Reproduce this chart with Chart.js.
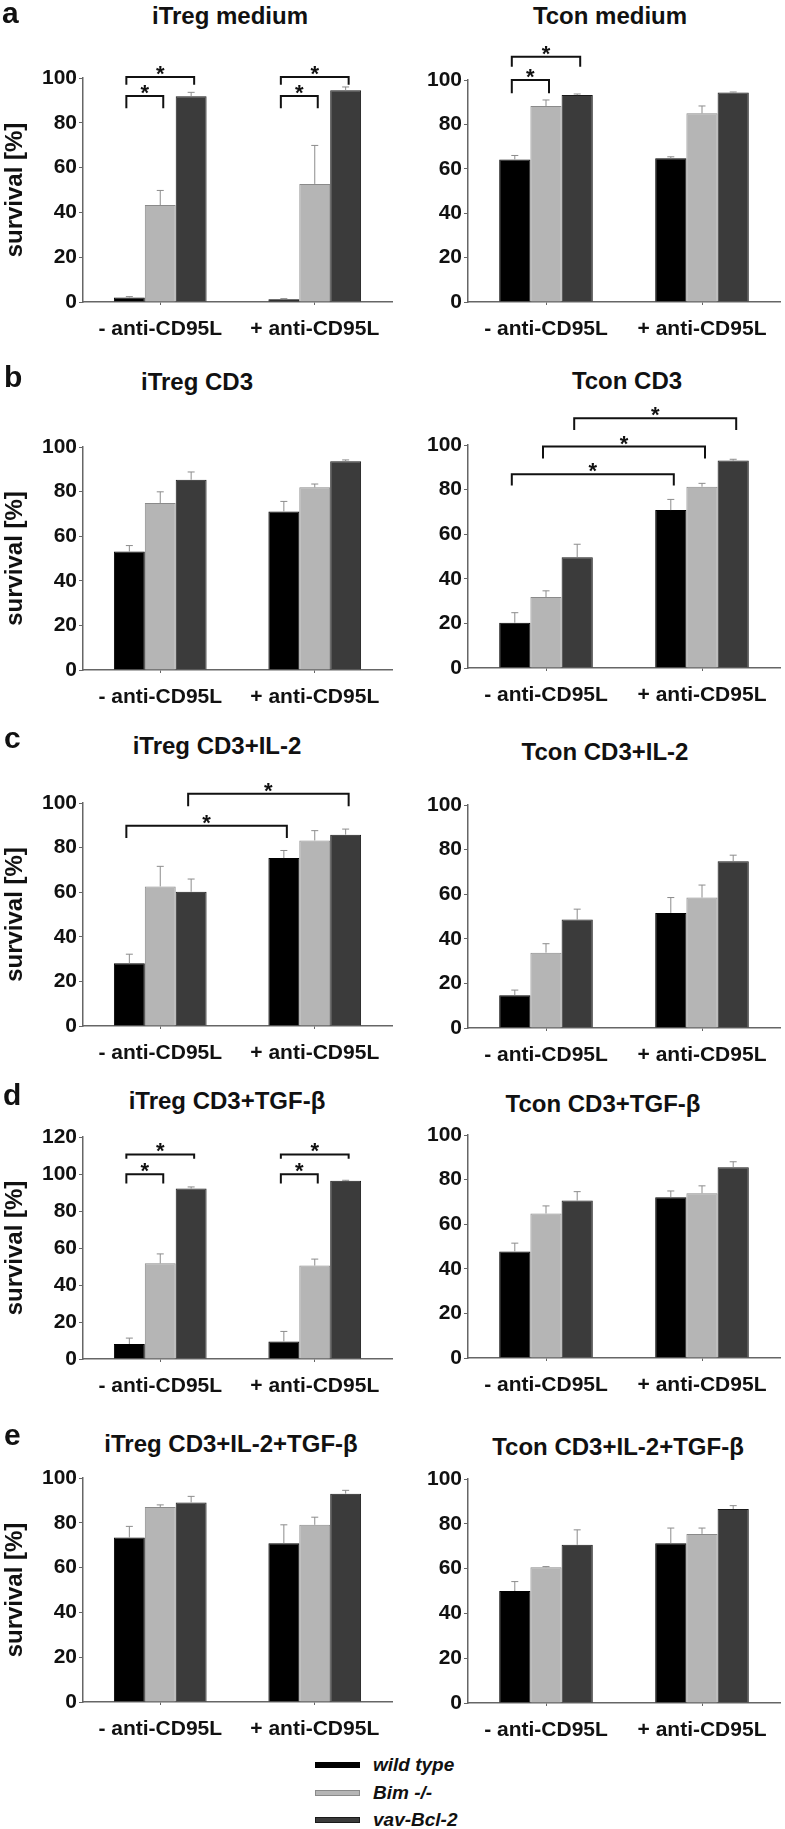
<!DOCTYPE html>
<html><head><meta charset="utf-8">
<script src="https://cdn.jsdelivr.net/npm/chart.js@4.4.0/dist/chart.umd.min.js"></script>
<style>
body{margin:0;background:#fff;}
#wrap{position:relative;width:785px;height:1829px;background:#fff;font-family:"Liberation Sans",Arial,sans-serif;color:#111;overflow:hidden;}
canvas{position:absolute;}
.ttl{position:absolute;font-weight:bold;font-size:24px;line-height:24px;white-space:nowrap;transform:translateX(-50%);}
.let{position:absolute;font-weight:bold;font-size:30px;line-height:30px;}
.sw{position:absolute;left:315px;width:45px;height:6px;box-sizing:border-box;}
.lt{position:absolute;left:373px;font-weight:bold;font-style:italic;font-size:19px;line-height:19px;white-space:nowrap;}
</style></head><body><div id="wrap"></div>
<script>
// ---------- data ----------
const categories = ['- anti-CD95L', '+ anti-CD95L'];
const seriesNames = ['wild type', 'Bim -/-', 'vav-Bcl-2'];
const yTicks100 = [0, 20, 40, 60, 80, 100];
const yTicks120 = [0, 20, 40, 60, 80, 100, 120];
const panelTitles = ['iTreg medium', 'Tcon medium', 'iTreg CD3', 'Tcon CD3', 'iTreg CD3+IL-2', 'Tcon CD3+IL-2',
  'iTreg CD3+TGF-β', 'Tcon CD3+TGF-β', 'iTreg CD3+IL-2+TGF-β', 'Tcon CD3+IL-2+TGF-β'];
const panelLetters = ['a', 'b', 'c', 'd', 'e'];

// means: [wild type, Bim -/-, vav-Bcl-2] x [- anti-CD95L, + anti-CD95L]
const iTregMedium_mean = [[2.0, 1.2], [43.3, 52.7], [91.8, 94.5]];
const iTregMedium_sd   = [[0.4, 0.3], [6.5, 17.2], [1.8, 1.5]];
const tconMedium_mean  = [[64.2, 64.7], [88.3, 85.0], [93.2, 94.4]];
const tconMedium_sd    = [[1.8, 0.7], [2.7, 3.3], [0.5, 0.2]];
const iTregCD3_mean    = [[53.1, 71.1], [74.9, 81.9], [85.3, 93.6]];
const iTregCD3_sd      = [[2.7, 4.5], [5.0, 1.5], [3.5, 0.6]];
const tconCD3_mean     = [[20.3, 70.8], [31.8, 81.3], [49.7, 93.0]];
const tconCD3_sd       = [[4.5, 4.8], [2.8, 1.5], [5.8, 0.6]];
const iTregIL2_mean    = [[28.1, 75.3], [62.6, 83.2], [60.2, 85.8]];
const iTregIL2_sd      = [[4.1, 3.4], [9.0, 4.4], [5.7, 2.5]];
const tconIL2_mean     = [[14.7, 51.6], [33.8, 58.5], [48.6, 74.8]];
const tconIL2_sd       = [[2.3, 6.9], [4.0, 5.6], [4.7, 2.7]];
const iTregTGF_mean    = [[8.1, 9.5], [51.7, 50.5], [92.1, 96.3]];
const iTregTGF_sd      = [[3.2, 5.4], [5.1, 3.5], [0.9, 0.3]];
const tconTGF_mean     = [[47.8, 72.1], [64.8, 73.9], [70.6, 85.5]];
const tconTGF_sd       = [[3.7, 2.8], [3.4, 3.3], [4.0, 2.5]];
const iTregIL2TGF_mean = [[73.4, 70.9], [87.0, 79.1], [89.1, 93.0]];
const iTregIL2TGF_sd   = [[5.0, 8.2], [1.0, 3.4], [2.7, 1.5]];
const tconIL2TGF_mean  = [[50.0, 71.3], [60.6, 75.5], [70.6, 86.6]];
const tconIL2TGF_sd    = [[4.2, 6.8], [0.3, 2.6], [6.7, 1.5]];

// significance brackets: [group1, series1, group2, series2, line value, tick-end value]
const iTregMedium_sig = [[0,0,0,1,92,86.5],[0,0,0,2,100.4,97],[1,0,1,1,92,86.5],[1,0,1,2,100.4,97]];
const tconMedium_sig  = [[0,0,0,1,100,94],[0,0,0,2,110.5,106]];
const tconCD3_sig     = [[0,0,1,0,86.9,81.8],[0,1,1,1,99.3,94],[0,2,1,2,112,106.7]];
const iTregIL2_sig    = [[0,0,1,0,89.8,84.3],[0,2,1,2,104.2,98.5]];
const iTregTGF_sig    = [[0,0,0,1,99.9,94.8],[0,0,0,2,110.6,108.3],[1,0,1,1,99.9,94.8],[1,0,1,2,110.6,108.3]];

// ---------- layout / style ----------
const fills   = ['#000000', '#b5b5b5', '#3b3b3b'];
const borders = ['#000000', '#8a8a8a', '#1a1a1a'];
const panels = [
  {mean:iTregMedium_mean, sd:iTregMedium_sd, sig:iTregMedium_sig, ticks:yTicks100, col:0, top:0,    topY:78,   zeroY:302,  tx:230, ty:7},
  {mean:tconMedium_mean,  sd:tconMedium_sd,  sig:tconMedium_sig,  ticks:yTicks100, col:1, top:0,    topY:80,   zeroY:302,  tx:610, ty:7},
  {mean:iTregCD3_mean,    sd:iTregCD3_sd,    sig:[],              ticks:yTicks100, col:0, top:360,  topY:447,  zeroY:670,  tx:197, ty:373},
  {mean:tconCD3_mean,     sd:tconCD3_sd,     sig:tconCD3_sig,     ticks:yTicks100, col:1, top:360,  topY:445,  zeroY:668,  tx:627, ty:372},
  {mean:iTregIL2_mean,    sd:iTregIL2_sd,    sig:iTregIL2_sig,    ticks:yTicks100, col:0, top:720,  topY:803,  zeroY:1026, tx:217, ty:737},
  {mean:tconIL2_mean,     sd:tconIL2_sd,     sig:[],              ticks:yTicks100, col:1, top:720,  topY:805,  zeroY:1028, tx:605, ty:743},
  {mean:iTregTGF_mean,    sd:iTregTGF_sd,    sig:iTregTGF_sig,    ticks:yTicks120, col:0, top:1080, topY:1137, zeroY:1359, tx:227, ty:1092},
  {mean:tconTGF_mean,     sd:tconTGF_sd,     sig:[],              ticks:yTicks100, col:1, top:1080, topY:1135, zeroY:1358, tx:603, ty:1095},
  {mean:iTregIL2TGF_mean, sd:iTregIL2TGF_sd, sig:[],              ticks:yTicks100, col:0, top:1430, topY:1478, zeroY:1702, tx:231, ty:1435},
  {mean:tconIL2TGF_mean,  sd:tconIL2TGF_sd,  sig:[],              ticks:yTicks100, col:1, top:1430, topY:1479, zeroY:1703, tx:618, ty:1438}
];
const letterPos = [[2,-2],[4,362],[4,723],[3,1080],[4,1420]];

const wrap = document.getElementById('wrap');
const FONT = '"Liberation Sans", Arial, sans-serif';
const axisCol = '#666';

function addText(cls, txt, x, y) {
  const d = document.createElement('div');
  d.className = cls; d.textContent = txt;
  d.style.left = x + 'px'; d.style.top = y + 'px';
  wrap.appendChild(d);
}

panels.forEach((p, k) => {
  addText('ttl', panelTitles[k], p.tx, p.ty - 3);
  const colLeft = p.col === 0 ? 0 : 393;
  const w = p.col === 0 ? 393 : 392;
  const axisX = p.col === 0 ? 83 : 468;
  const rightX = p.col === 0 ? 392 : 780;
  const xH = 40;
  const h = p.zeroY - p.top + xH;
  const cv = document.createElement('canvas');
  cv.width = w; cv.height = h;
  cv.style.left = colLeft + 'px'; cv.style.top = p.top + 'px';
  cv.style.width = w + 'px'; cv.style.height = h + 'px';
  wrap.appendChild(cv);

  const extras = {
    id: 'extras' + k,
    afterDatasetsDraw(chart) {
      const ctx = chart.ctx, ys = chart.scales.y;
      ctx.save();
      // error bars (upper only)
      for (let i = 0; i < 3; i++) {
        const meta = chart.getDatasetMeta(i);
        meta.data.forEach((bar, j) => {
          const yt = ys.getPixelForValue(p.mean[i][j] + p.sd[i][j]);
          ctx.strokeStyle = '#8c8c8c';
          ctx.lineWidth = 1;
          ctx.beginPath();
          ctx.moveTo(bar.x, bar.y); ctx.lineTo(bar.x, yt);
          ctx.moveTo(bar.x - 3.5, yt); ctx.lineTo(bar.x + 3.5, yt);
          ctx.stroke();
        });
      }
      // significance brackets
      p.sig.forEach(s => {
        const x1 = chart.getDatasetMeta(s[1]).data[s[0]].x - 3;
        const x2 = chart.getDatasetMeta(s[3]).data[s[2]].x + 3;
        const yl = ys.getPixelForValue(s[4]);
        const yt = ys.getPixelForValue(s[5]);
        ctx.strokeStyle = '#111';
        ctx.lineWidth = 2;
        ctx.beginPath();
        ctx.moveTo(x1, yt); ctx.lineTo(x1, yl); ctx.lineTo(x2, yl); ctx.lineTo(x2, yt);
        ctx.stroke();
        ctx.fillStyle = '#111';
        ctx.font = 'bold 22px ' + FONT;
        ctx.textAlign = 'center';
        ctx.textBaseline = 'alphabetic';
        ctx.fillText('*', (x1 + x2) / 2, yl + 4);
      });
      ctx.restore();
    }
  };

  new Chart(cv, {
    type: 'bar',
    data: {
      labels: categories,
      datasets: seriesNames.map((n, i) => ({
        label: n, data: p.mean[i],
        backgroundColor: fills[i], borderColor: borders[i], borderWidth: 1,
        categoryPercentage: 0.6, barPercentage: 1.0
      }))
    },
    options: {
      responsive: false, animation: false, devicePixelRatio: 1,
      layout: { padding: { top: p.topY - p.top, right: colLeft + w - rightX, bottom: 0, left: 0 } },
      plugins: { legend: { display: false }, tooltip: { enabled: false }, title: { display: false } },
      scales: {
        x: {
          grid: { display: true, drawOnChartArea: false, offset: false, tickLength: 3, color: axisCol, lineWidth: 1 },
          border: { color: axisCol, width: 1.5 },
          ticks: { font: { family: FONT, size: 21, weight: 'bold' }, color: '#111', padding: 12, maxRotation: 0, autoSkip: false },
          afterFit(s) { s.height = xH; }
        },
        y: {
          min: 0, max: p.ticks[p.ticks.length - 1],
          afterBuildTicks(s) { s.ticks = p.ticks.map(v => ({ value: v })); },
          grid: { display: true, drawOnChartArea: false, tickLength: 4, color: axisCol, lineWidth: 1 },
          border: { color: axisCol, width: 1.5 },
          ticks: { font: { family: FONT, size: 21, weight: 'bold' }, color: '#111', padding: 2 },
          title: { display: p.col === 0, text: 'survival [%]', font: { family: FONT, size: 24, weight: 'bold' }, color: '#111', padding: 1 },
          afterFit(s) { s.width = axisX - colLeft; }
        }
      }
    },
    plugins: [extras]
  });
});

panelLetters.forEach((l, i) => addText('let', l, letterPos[i][0], letterPos[i][1]));

// legend
const legendY = [1765, 1793, 1820];
seriesNames.forEach((n, i) => {
  const s = document.createElement('div');
  s.className = 'sw';
  s.style.top = (legendY[i] - 3) + 'px';
  s.style.background = fills[i];
  s.style.border = '1px solid ' + borders[i];
  wrap.appendChild(s);
  addText('lt', n, 373, legendY[i] - 10);
});
</script>
</body></html>
